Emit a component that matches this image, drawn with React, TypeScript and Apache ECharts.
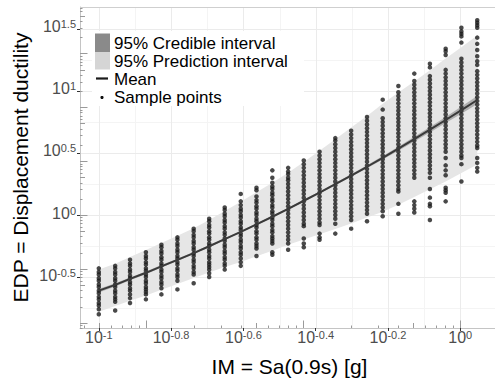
import React, { useEffect, useRef } from "react";
import * as echarts from "echarts";

// IM = Sa(0.9s) in g, one entry per sample column
const imG = [0.100, 0.111, 0.122, 0.135, 0.149, 0.165, 0.183, 0.202, 0.223, 0.247, 0.273, 0.302, 0.334,
  0.369, 0.408, 0.451, 0.499, 0.552, 0.610, 0.674, 0.746, 0.824, 0.911, 1.007, 1.114];

// log10 of the mean displacement ductility at each IM
const meanLogEDP = [-0.610, -0.563, -0.515, -0.466, -0.414, -0.362, -0.307, -0.252, -0.194, -0.136, -0.075,
  -0.014, 0.050, 0.115, 0.181, 0.249, 0.318, 0.389, 0.461, 0.535, 0.611, 0.688, 0.766, 0.846, 0.927];

// half widths (log10 units) of the 95% prediction / credible intervals
const predHalfWidth = [0.170, 0.171, 0.177, 0.183, 0.189, 0.195, 0.200, 0.212, 0.226, 0.242, 0.258, 0.275, 0.290,
  0.313, 0.337, 0.362, 0.387, 0.410, 0.435, 0.452, 0.465, 0.480, 0.495, 0.507, 0.520];
const credHalfWidth = [0.014, 0.013, 0.012, 0.011, 0.010, 0.009, 0.008, 0.008, 0.007, 0.007, 0.007, 0.007, 0.007,
  0.008, 0.008, 0.009, 0.010, 0.012, 0.014, 0.016, 0.019, 0.022, 0.025, 0.029, 0.033];

// log10 EDP of sample points, one list per IM column
const sampleLogEDP: number[][] = [
  [-0.43, -0.46, -0.48, -0.51, -0.53, -0.56, -0.58, -0.61, -0.63, -0.66, -0.68, -0.71, -0.73, -0.76, -0.80],
  [-0.41, -0.43, -0.46, -0.48, -0.51, -0.53, -0.56, -0.58, -0.61, -0.63, -0.66, -0.68, -0.70, -0.77],
  [-0.36, -0.39, -0.41, -0.44, -0.46, -0.49, -0.51, -0.54, -0.56, -0.59, -0.61, -0.64, -0.67, -0.71],
  [-0.30, -0.33, -0.35, -0.38, -0.40, -0.43, -0.45, -0.48, -0.50, -0.53, -0.55, -0.58, -0.60, -0.62, -0.64, -0.68],
  [-0.24, -0.26, -0.29, -0.31, -0.34, -0.36, -0.39, -0.41, -0.44, -0.46, -0.49, -0.51, -0.54, -0.56, -0.59, -0.64],
  [-0.18, -0.20, -0.23, -0.25, -0.28, -0.30, -0.33, -0.35, -0.38, -0.40, -0.43, -0.45, -0.48, -0.50, -0.53, -0.60],
  [-0.11, -0.13, -0.16, -0.18, -0.21, -0.23, -0.26, -0.28, -0.31, -0.33, -0.36, -0.38, -0.41, -0.43, -0.46, -0.48, -0.55],
  [-0.03, -0.05, -0.08, -0.10, -0.13, -0.15, -0.18, -0.20, -0.23, -0.25, -0.28, -0.30, -0.33, -0.35, -0.38, -0.40, -0.42, -0.44, -0.47, -0.50],
  [0.06, 0.04, 0.01, -0.01, -0.04, -0.06, -0.09, -0.11, -0.14, -0.16, -0.19, -0.21, -0.24, -0.26, -0.29, -0.31, -0.34, -0.36, -0.39, -0.41, -0.44],
  [0.17, 0.11, 0.08, 0.05, 0.03, 0.00, -0.02, -0.05, -0.07, -0.10, -0.12, -0.15, -0.17, -0.20, -0.22, -0.25, -0.27, -0.30, -0.32, -0.35, -0.38, -0.41],
  [0.22, 0.20, 0.15, 0.12, 0.10, 0.07, 0.05, 0.02, 0.00, -0.03, -0.05, -0.08, -0.10, -0.13, -0.15, -0.18, -0.20, -0.23, -0.25, -0.27, -0.33],
  [0.36, 0.30, 0.26, 0.23, 0.21, 0.18, 0.16, 0.13, 0.11, 0.08, 0.06, 0.03, 0.01, -0.02, -0.04, -0.07, -0.09, -0.12, -0.14, -0.17, -0.19, -0.21, -0.23, -0.30, -0.32],
  [0.38, 0.35, 0.33, 0.30, 0.28, 0.25, 0.22, 0.19, 0.16, 0.13, 0.10, 0.07, 0.04, 0.01, -0.02, -0.05, -0.08, -0.11, -0.14, -0.17, -0.20, -0.23, -0.28],
  [0.44, 0.41, 0.38, 0.35, 0.32, 0.29, 0.26, 0.23, 0.20, 0.17, 0.14, 0.11, 0.08, 0.05, 0.02, -0.01, -0.04, -0.07, -0.09, -0.19, -0.23, -0.26],
  [0.51, 0.48, 0.45, 0.42, 0.39, 0.36, 0.33, 0.30, 0.27, 0.24, 0.21, 0.18, 0.15, 0.12, 0.09, 0.06, 0.03, 0.00, -0.03, -0.06, -0.08, -0.15, -0.18, -0.20],
  [0.62, 0.60, 0.57, 0.54, 0.51, 0.48, 0.45, 0.42, 0.39, 0.36, 0.33, 0.30, 0.27, 0.24, 0.21, 0.18, 0.15, 0.12, 0.09, 0.06, 0.03, 0.00, -0.03, -0.07, -0.15],
  [0.68, 0.65, 0.62, 0.59, 0.56, 0.53, 0.50, 0.47, 0.44, 0.41, 0.38, 0.35, 0.32, 0.29, 0.26, 0.23, 0.20, 0.17, 0.14, 0.11, 0.08, 0.05, 0.02, -0.01, -0.04, -0.11],
  [0.79, 0.76, 0.73, 0.70, 0.67, 0.64, 0.61, 0.58, 0.55, 0.52, 0.49, 0.46, 0.43, 0.40, 0.37, 0.34, 0.31, 0.28, 0.25, 0.22, 0.19, 0.16, 0.13, 0.10, 0.07, 0.04, 0.01, -0.05],
  [0.93, 0.85, 0.78, 0.75, 0.72, 0.69, 0.66, 0.63, 0.60, 0.57, 0.54, 0.51, 0.48, 0.45, 0.42, 0.39, 0.36, 0.33, 0.30, 0.27, 0.24, 0.21, 0.18, 0.15, 0.12, 0.09, 0.06, 0.03, -0.01],
  [1.04, 0.99, 0.96, 0.93, 0.90, 0.87, 0.84, 0.81, 0.78, 0.75, 0.72, 0.69, 0.66, 0.63, 0.60, 0.57, 0.54, 0.51, 0.48, 0.45, 0.42, 0.39, 0.36, 0.33, 0.30, 0.27, 0.24, 0.21, 0.19, 0.09, 0.01],
  [1.14, 1.08, 1.05, 1.02, 0.99, 0.96, 0.93, 0.90, 0.87, 0.84, 0.81, 0.78, 0.75, 0.72, 0.69, 0.66, 0.63, 0.60, 0.57, 0.54, 0.51, 0.48, 0.45, 0.42, 0.39, 0.36, 0.33, 0.30, 0.11, 0.08, 0.05, 0.02],
  [1.22, 1.19, 1.12, 1.09, 1.06, 1.03, 1.00, 0.97, 0.94, 0.91, 0.88, 0.85, 0.82, 0.79, 0.76, 0.73, 0.70, 0.67, 0.64, 0.61, 0.58, 0.55, 0.52, 0.49, 0.46, 0.43, 0.40, 0.37, 0.34, 0.30, 0.21, 0.14, 0.09, 0.07, -0.04],
  [1.34, 1.32, 1.29, 1.17, 1.14, 1.11, 1.08, 1.05, 1.02, 0.99, 0.96, 0.93, 0.90, 0.87, 0.84, 0.81, 0.78, 0.75, 0.72, 0.69, 0.66, 0.63, 0.60, 0.57, 0.54, 0.51, 0.46, 0.40, 0.36, 0.32, 0.22, 0.20, 0.18, 0.11],
  [1.51, 1.48, 1.46, 1.44, 1.39, 1.26, 1.23, 1.20, 1.17, 1.14, 1.11, 1.08, 1.05, 1.02, 0.99, 0.96, 0.93, 0.90, 0.87, 0.84, 0.81, 0.78, 0.75, 0.72, 0.69, 0.66, 0.63, 0.60, 0.57, 0.54, 0.51, 0.48, 0.46, 0.41, 0.27],
  [1.57, 1.55, 1.53, 1.51, 1.43, 1.38, 1.33, 1.28, 1.24, 1.21, 1.16, 1.13, 1.10, 1.07, 1.04, 1.01, 0.98, 0.95, 0.92, 0.89, 0.86, 0.83, 0.80, 0.77, 0.74, 0.71, 0.68, 0.65, 0.62, 0.59, 0.56, 0.54, 0.46, 0.42, 0.38, 0.35],
];

const xTickExps = [-1, -0.8, -0.6, -0.4, -0.2, 0];
const yTickExps = [-0.5, 0, 0.5, 1, 1.5];
const xMinorGrid = [-0.9, -0.7, -0.5, -0.3, -0.1];
const yMinorGrid = [-0.75, -0.25, 0.25, 0.75, 1.25];

const legendLabels = ["95% Credible interval", "95% Prediction interval", "Mean", "Sample points"];

const X_MIN = -1.052;
const X_MAX = 0.096;
const Y_MIN = -0.911;
const Y_MAX = 1.677;
const FONT = "'Liberation Sans', Arial, Helvetica, sans-serif";

function logTickPositions(lo: number, hi: number): [number, number][] {
  const out: [number, number][] = [];
  for (let n = -4; n <= 5; n++) {
    for (let k = 1; k <= 9; k++) {
      const u = Math.LOG10E * (n + Math.log10(k));
      if (u >= lo && u <= hi) out.push([u, k === 1 ? 7.5 : k === 5 ? 5 : 2.5]);
    }
  }
  return out;
}

function expStr(v: number) {
  const r = Math.round(v * 10) / 10;
  return String(r === 0 ? 0 : r);
}

export default function App() {
  const ref = useRef<HTMLDivElement>(null);
  useEffect(() => {
    if (!ref.current) return;
    const chart = echarts.init(ref.current, null, { renderer: "svg" });
    const xs = imG.map((v) => Math.log10(v));
    const scatterData: number[][] = [];
    sampleLogEDP.forEach((col, i) => col.forEach((v) => scatterData.push([xs[i], v])));
    const meanData = xs.map((x, i) => [x, meanLogEDP[i]]);
    const xLogTicks = logTickPositions(X_MIN, X_MAX);
    const yLogTicks = logTickPositions(Y_MIN, Y_MAX);

    const bandSeries = (half: number[], color: string, z: number) => ({
      type: "custom",
      coordinateSystem: "cartesian2d",
      silent: true,
      z,
      data: [[X_MIN, Y_MIN]],
      renderItem: (_p: any, api: any) => {
        const pts: number[][] = [];
        xs.forEach((x, i) => pts.push(api.coord([x, meanLogEDP[i] + half[i]])));
        for (let i = xs.length - 1; i >= 0; i--) pts.push(api.coord([xs[i], meanLogEDP[i] - half[i]]));
        return { type: "polygon", shape: { points: pts }, style: { fill: color, stroke: "none" } };
      },
    });

    const rich = {
      b: { fontSize: 16, fontFamily: FONT, color: "#4d4d4d", lineHeight: 16, padding: [4, 0, 0, 0], verticalAlign: "bottom" },
      s: { fontSize: 11, fontFamily: FONT, color: "#4d4d4d", lineHeight: 12, verticalAlign: "top" },
    };

    chart.setOption({
      animation: false,
      backgroundColor: "#ffffff",
      grid: { left: 80, top: 7, width: 419, height: 321, containLabel: false },
      xAxis: {
        type: "value",
        min: X_MIN,
        max: X_MAX,
        splitLine: { show: false },
        axisLine: { show: true, onZero: false, lineStyle: { color: "#c4c4c4", width: 1 } },
        axisTick: { show: true, customValues: xTickExps, length: 3, lineStyle: { color: "#333333", width: 1 } },
        axisLabel: {
          customValues: xTickExps,
          margin: 1,
          formatter: (v: number) => `{b|10}{s|${expStr(v)}}`,
          rich,
        },
      },
      yAxis: {
        type: "value",
        min: Y_MIN,
        max: Y_MAX,
        splitLine: { show: false },
        axisLine: { show: true, onZero: false, lineStyle: { color: "#c4c4c4", width: 1 } },
        axisTick: { show: true, customValues: yTickExps, length: 3, lineStyle: { color: "#333333", width: 1 } },
        axisLabel: {
          customValues: yTickExps,
          margin: 4,
          padding: [0, 0, 4, 0],
          formatter: (v: number) => `{b|10}{s|${expStr(v)}}`,
          rich,
        },
      },
      series: [
        {
          type: "custom",
          coordinateSystem: "cartesian2d",
          silent: true,
          z: 0,
          data: [[X_MIN, Y_MIN]],
          renderItem: (_p: any, api: any) => {
            const children: any[] = [];
            const top = api.coord([X_MIN, Y_MAX])[1];
            const bottom = api.coord([X_MIN, Y_MIN])[1];
            const left = api.coord([X_MIN, Y_MIN])[0];
            const right = api.coord([X_MAX, Y_MIN])[0];
            const vline = (v: number, c: string) => {
              const x = Math.round(api.coord([v, Y_MIN])[0]) + 0.5;
              children.push({ type: "line", shape: { x1: x, y1: top, x2: x, y2: bottom }, style: { stroke: c, lineWidth: 1 } });
            };
            const hline = (v: number, c: string) => {
              const y = Math.round(api.coord([X_MIN, v])[1]) + 0.5;
              children.push({ type: "line", shape: { x1: left, y1: y, x2: right, y2: y }, style: { stroke: c, lineWidth: 1 } });
            };
            xMinorGrid.forEach((v) => vline(v, "#f4f4f4"));
            yMinorGrid.forEach((v) => hline(v, "#f4f4f4"));
            xTickExps.forEach((v) => vline(v, "#ebebeb"));
            yTickExps.forEach((v) => hline(v, "#ebebeb"));
            return { type: "group", children };
          },
        },
        bandSeries(predHalfWidth, "#e6e6e6", 1),
        bandSeries(credHalfWidth, "rgba(120,120,120,0.5)", 1),
        {
          type: "custom",
          coordinateSystem: "cartesian2d",
          silent: true,
          z: 1,
          data: [[X_MIN, Y_MIN]],
          renderItem: (_p: any, api: any) => {
            const children: any[] = [];
            xLogTicks.forEach(([u, len]) => {
              const p = api.coord([u, Y_MIN]);
              const x = Math.round(p[0]) + 0.5;
              children.push({ type: "line", shape: { x1: x, y1: p[1], x2: x, y2: p[1] - len }, style: { stroke: "#9a9a9a", lineWidth: 1 } });
            });
            yLogTicks.forEach(([u, len]) => {
              const p = api.coord([X_MIN, u]);
              const y = Math.round(p[1]) + 0.5;
              children.push({ type: "line", shape: { x1: p[0], y1: y, x2: p[0] + len, y2: y }, style: { stroke: "#9a9a9a", lineWidth: 1 } });
            });
            return { type: "group", children };
          },
        },
        {
          type: "scatter",
          z: 2,
          silent: true,
          symbol: "circle",
          symbolSize: 4.5,
          itemStyle: { color: "#1c1c1c" },
          data: scatterData,
        },
        {
          type: "line",
          z: 3,
          silent: true,
          symbol: "none",
          lineStyle: { color: "#3a3a3a", width: 2 },
          data: meanData,
        },
      ],
      graphic: [
        { type: "line", shape: { x1: 80, y1: 7.5, x2: 495, y2: 7.5 }, style: { stroke: "#cfcfcf", lineWidth: 1 }, silent: true, z: 10 },
        { type: "rect", shape: { x: 92, y: 31, width: 212, height: 75 }, style: { fill: "#ffffff" }, silent: true, z: 10 },
        { type: "rect", shape: { x: 95, y: 33.5, width: 15, height: 18.5 }, style: { fill: "#8a8a8a" }, silent: true, z: 11 },
        { type: "rect", shape: { x: 95, y: 52, width: 15, height: 17.5 }, style: { fill: "#d5d5d5" }, silent: true, z: 11 },
        { type: "line", shape: { x1: 96, y1: 78.5, x2: 108, y2: 78.5 }, style: { stroke: "#1a1a1a", lineWidth: 2.2 }, silent: true, z: 11 },
        { type: "circle", shape: { cx: 102, cy: 97.5, r: 1.6 }, style: { fill: "#111111" }, silent: true, z: 11 },
        ...legendLabels.map((t, i) => ({
          type: "text",
          x: 114,
          y: 43 + i * 18,
          silent: true,
          z: 12,
          style: { text: t, fontSize: 17, lineHeight: 16, fontFamily: FONT, fill: "#000000", verticalAlign: "middle", align: "left" },
        })),
        {
          type: "text",
          x: 289.5,
          y: 366,
          silent: true,
          style: { text: "IM = Sa(0.9s) [g]", fontSize: 21, fontFamily: FONT, fill: "#000000", align: "center", verticalAlign: "middle" },
        },
        {
          type: "text",
          x: 20.5,
          y: 167.5,
          rotation: Math.PI / 2,
          silent: true,
          style: { text: "EDP = Displacement ductility", fontSize: 21, fontFamily: FONT, fill: "#000000", align: "center", verticalAlign: "middle" },
        },
      ],
    });
    return () => chart.dispose();
  }, []);
  return <div ref={ref} style={{ position: "absolute", left: 0, top: 0, width: 495, height: 383 }} />;
}
